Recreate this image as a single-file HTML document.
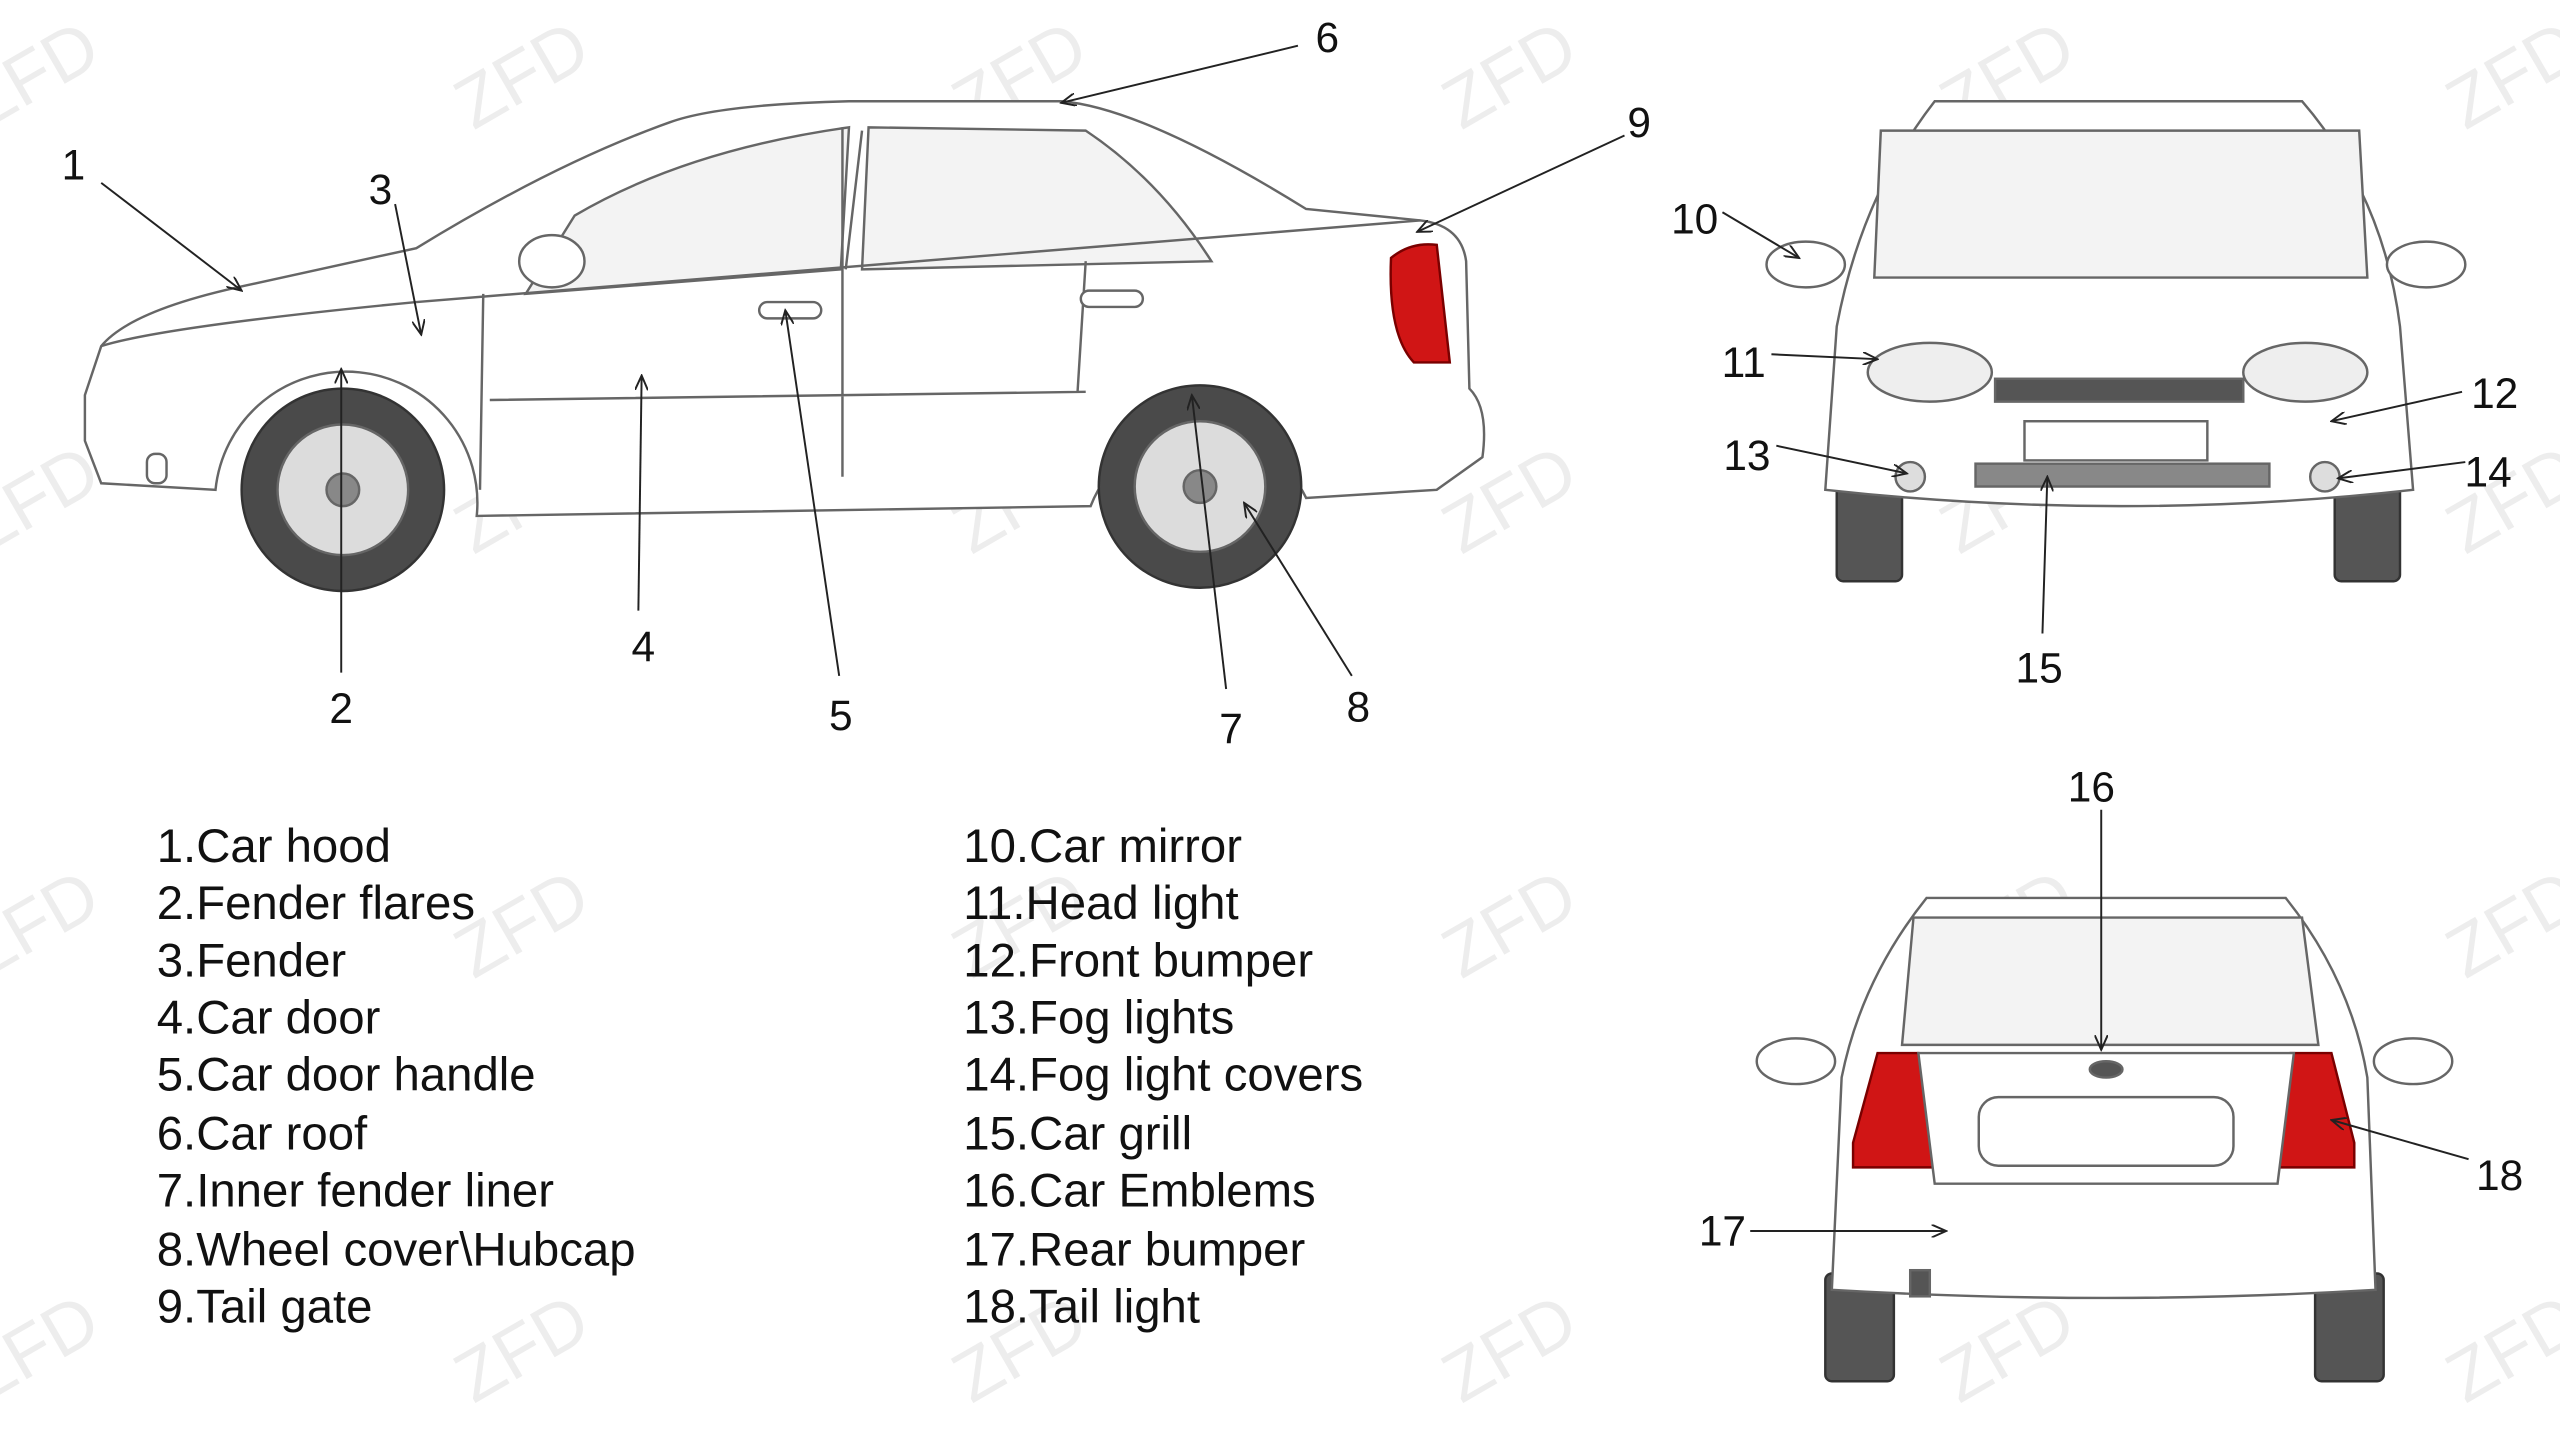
<!DOCTYPE html>
<html><head><meta charset="utf-8"><style>
html,body{margin:0;padding:0;background:#fff;}
svg{display:block;}
text{font-family:"Liberation Sans",sans-serif;}
</style></head><body>
<svg width="2560" height="1440" viewBox="0 0 1568 882" xmlns="http://www.w3.org/2000/svg">
<defs>
<marker id="a" markerWidth="10" markerHeight="8" refX="9" refY="4" orient="auto" markerUnits="userSpaceOnUse">
<path d="M0,0 L9,4 L0,8" fill="none" stroke="#222" stroke-width="1.2"/></marker>
</defs>
<rect width="1568" height="882" fill="#fff"/>
<g fill="#ededed" font-size="44">
<text transform="translate(-10,80) rotate(-30)">ZFD</text>
<text transform="translate(290,80) rotate(-30)">ZFD</text>
<text transform="translate(595,80) rotate(-30)">ZFD</text>
<text transform="translate(895,80) rotate(-30)">ZFD</text>
<text transform="translate(1200,80) rotate(-30)">ZFD</text>
<text transform="translate(1510,80) rotate(-30)">ZFD</text>
<text transform="translate(-10,340) rotate(-30)">ZFD</text>
<text transform="translate(290,340) rotate(-30)">ZFD</text>
<text transform="translate(595,340) rotate(-30)">ZFD</text>
<text transform="translate(895,340) rotate(-30)">ZFD</text>
<text transform="translate(1200,340) rotate(-30)">ZFD</text>
<text transform="translate(1510,340) rotate(-30)">ZFD</text>
<text transform="translate(-10,600) rotate(-30)">ZFD</text>
<text transform="translate(290,600) rotate(-30)">ZFD</text>
<text transform="translate(595,600) rotate(-30)">ZFD</text>
<text transform="translate(895,600) rotate(-30)">ZFD</text>
<text transform="translate(1200,600) rotate(-30)">ZFD</text>
<text transform="translate(1510,600) rotate(-30)">ZFD</text>
<text transform="translate(-10,860) rotate(-30)">ZFD</text>
<text transform="translate(290,860) rotate(-30)">ZFD</text>
<text transform="translate(595,860) rotate(-30)">ZFD</text>
<text transform="translate(895,860) rotate(-30)">ZFD</text>
<text transform="translate(1200,860) rotate(-30)">ZFD</text>
<text transform="translate(1510,860) rotate(-30)">ZFD</text>
</g>

<g stroke="#666" stroke-width="1.5" fill="#fff">
<path d="M52,242 L62,212 Q80,190 150,175 L255,152 Q340,100 410,75 Q440,64 520,62 L650,62 Q700,66 800,128 L870,135 Q895,138 898,160 L900,238 Q912,250 908,280 L880,300 L800,305 A72,72 0 0 0 668,310 L292,316 A80,80 0 0 0 132,300 L62,296 L52,270 Z"/>
<path d="M322,180 L352,132 Q420,92 520,78 L515,165 Z" fill="#f3f3f3"/>
<path d="M532,78 L665,80 Q710,110 742,160 L528,165 Z" fill="#f3f3f3"/>
<path d="M296,180 L294,300 M516,78 L516,292 M528,80 L518,165 M300,245 L665,240 M660,240 L665,160"/>
<path d="M62,212 Q100,200 255,185 L870,135" fill="none"/>
<path d="M852,158 Q864,148 880,150 L888,222 L866,222 Q850,205 852,158 Z" fill="#d01515" stroke="#7a0000"/>
<ellipse cx="338" cy="160" rx="20" ry="16"/>
<rect x="465" y="185" width="38" height="10" rx="5"/>
<rect x="662" y="178" width="38" height="10" rx="5"/>
<circle cx="210" cy="300" r="62" fill="#4a4a4a" stroke="#333"/>
<circle cx="210" cy="300" r="40" fill="#dcdcdc"/>
<circle cx="210" cy="300" r="10" fill="#888"/>
<circle cx="735" cy="298" r="62" fill="#4a4a4a" stroke="#333"/>
<circle cx="735" cy="298" r="40" fill="#dcdcdc"/>
<circle cx="735" cy="298" r="10" fill="#888"/>
<rect x="90" y="278" width="12" height="18" rx="5"/>
</g>

<g stroke="#666" stroke-width="1.5" fill="#fff">
<rect x="1125" y="290" width="40" height="66" rx="4" fill="#555" stroke="#333"/>
<rect x="1430" y="290" width="40" height="66" rx="4" fill="#555" stroke="#333"/>
<path d="M1185,62 L1410,62 Q1460,120 1470,200 L1478,300 Q1300,320 1118,300 L1125,200 Q1140,120 1185,62 Z"/>
<path d="M1152,80 L1445,80 L1450,170 L1148,170 Z" fill="#f3f3f3"/>
<ellipse cx="1106" cy="162" rx="24" ry="14"/>
<ellipse cx="1486" cy="162" rx="24" ry="14"/>
<ellipse cx="1182" cy="228" rx="38" ry="18" fill="#eee"/>
<ellipse cx="1412" cy="228" rx="38" ry="18" fill="#eee"/>
<rect x="1222" y="232" width="152" height="14" fill="#555"/>
<rect x="1240" y="258" width="112" height="24"/>
<rect x="1210" y="284" width="180" height="14" fill="#888"/>
<circle cx="1170" cy="292" r="9" fill="#ddd"/>
<circle cx="1424" cy="292" r="9" fill="#ddd"/>
</g>

<g stroke="#666" stroke-width="1.5" fill="#fff">
<rect x="1118" y="780" width="42" height="66" rx="4" fill="#555" stroke="#333"/>
<rect x="1418" y="780" width="42" height="66" rx="4" fill="#555" stroke="#333"/>
<path d="M1180,550 L1400,550 Q1440,600 1450,660 L1455,790 Q1290,800 1122,790 L1128,660 Q1140,600 1180,550 Z"/>
<path d="M1172,562 L1410,562 L1420,640 L1165,640 Z" fill="#f3f3f3"/>
<ellipse cx="1100" cy="650" rx="24" ry="14"/>
<ellipse cx="1478" cy="650" rx="24" ry="14"/>
<path d="M1135,700 L1150,645 L1175,645 L1188,715 L1135,715 Z" fill="#d01515" stroke="#7a0000"/>
<path d="M1442,700 L1428,645 L1403,645 L1390,715 L1442,715 Z" fill="#d01515" stroke="#7a0000"/>
<path d="M1175,645 L1405,645 L1395,725 L1185,725 Z"/>
<rect x="1212" y="672" width="156" height="42" rx="12"/>
<ellipse cx="1290" cy="655" rx="10" ry="5" fill="#555"/>
<rect x="1170" y="778" width="12" height="16" fill="#555"/>
</g>

<g stroke="#222" stroke-width="1.2" fill="none" marker-end="url(#a)">
<line x1="62" y1="112" x2="148" y2="178"/>
<line x1="242" y1="125" x2="258" y2="205"/>
<line x1="209" y1="412" x2="209" y2="226"/>
<line x1="391" y1="374" x2="393" y2="230"/>
<line x1="514" y1="414" x2="481" y2="190"/>
<line x1="795" y1="28" x2="650" y2="63"/>
<line x1="995" y1="83" x2="868" y2="142"/>
<line x1="751" y1="422" x2="730" y2="242"/>
<line x1="828" y1="414" x2="762" y2="308"/>
<line x1="1055" y1="130" x2="1102" y2="158"/>
<line x1="1085" y1="217" x2="1150" y2="220"/>
<line x1="1088" y1="273" x2="1168" y2="290"/>
<line x1="1508" y1="240" x2="1428" y2="258"/>
<line x1="1510" y1="283" x2="1432" y2="293"/>
<line x1="1251" y1="388" x2="1254" y2="292"/>
<line x1="1287" y1="496" x2="1287" y2="643"/>
<line x1="1072" y1="754" x2="1192" y2="754"/>
<line x1="1512" y1="710" x2="1428" y2="686"/>
</g>

<g font-size="26" fill="#111" text-anchor="middle">
<text x="45" y="110">1</text>
<text x="233" y="125">3</text>
<text x="209" y="443">2</text>
<text x="394" y="405">4</text>
<text x="515" y="447">5</text>
<text x="813" y="32">6</text>
<text x="1004" y="84">9</text>
<text x="754" y="455">7</text>
<text x="832" y="442">8</text>
<text x="1038" y="143">10</text>
<text x="1068" y="231">11</text>
<text x="1070" y="288">13</text>
<text x="1528" y="250">12</text>
<text x="1524" y="298">14</text>
<text x="1249" y="418">15</text>
<text x="1281" y="491">16</text>
<text x="1055" y="763">17</text>
<text x="1531" y="729">18</text>
</g>

<g font-size="29" fill="#111">
<text x="96" y="528">1.Car hood</text>
<text x="96" y="563">2.Fender flares</text>
<text x="96" y="598">3.Fender</text>
<text x="96" y="633">4.Car door</text>
<text x="96" y="668">5.Car door handle</text>
<text x="96" y="704">6.Car roof</text>
<text x="96" y="739">7.Inner fender liner</text>
<text x="96" y="775">8.Wheel cover\Hubcap</text>
<text x="96" y="810">9.Tail gate</text>
<text x="590" y="528">10.Car mirror</text>
<text x="590" y="563">11.Head light</text>
<text x="590" y="598">12.Front bumper</text>
<text x="590" y="633">13.Fog lights</text>
<text x="590" y="668">14.Fog light covers</text>
<text x="590" y="704">15.Car grill</text>
<text x="590" y="739">16.Car Emblems</text>
<text x="590" y="775">17.Rear bumper</text>
<text x="590" y="810">18.Tail light</text>
</g>
</svg>
</body></html>
